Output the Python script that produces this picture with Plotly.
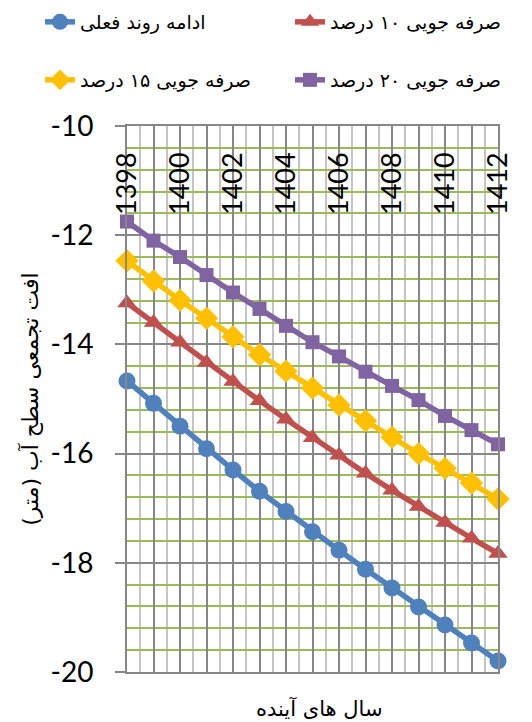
import plotly.graph_objects as go

# Forecast years (Solar Hijri calendar)
years = list(range(1398, 1413))
year_labels = [str(y) if y % 2 == 0 else "" for y in years]

# Depth ticks on the vertical axis
y_ticks = [-20, -18, -16, -14, -12, -10]
y_tick_labels = [str(v) for v in y_ticks]

# Cumulative groundwater-level drop (m) under each scenario
current_trend = [-14.67, -15.08, -15.50, -15.91, -16.30, -16.69, -17.06, -17.43,
                 -17.77, -18.12, -18.46, -18.81, -19.14, -19.47, -19.80]
saving_10 = [-13.24, -13.60, -13.96, -14.33, -14.68, -15.03, -15.37, -15.71,
             -16.03, -16.36, -16.67, -16.97, -17.26, -17.55, -17.83]
saving_15 = [-12.47, -12.84, -13.19, -13.52, -13.86, -14.19, -14.49, -14.80,
             -15.11, -15.40, -15.70, -16.00, -16.27, -16.54, -16.83]
saving_20 = [-11.75, -12.10, -12.40, -12.73, -13.05, -13.35, -13.66, -13.96,
             -14.22, -14.50, -14.76, -15.02, -15.31, -15.57, -15.83]

names = ["ادامه روند فعلی", "صرفه جویی ۱۰ درصد", "صرفه جویی ۱۵ درصد", "صرفه جویی ۲۰ درصد"]

W, H = 532, 722
ARABIC_FONT = "DejaVu Sans"
NUM_FONT = "Lato"

# one legend box per series: (legend id, left px, centre-y px)
legend_slots = [("legend", 40, 22), ("legend2", 290, 22),
                ("legend3", 40, 80), ("legend4", 290, 80)]

series = [
    (current_trend, names[0], "#4F81BD", "circle", 17),
    (saving_10, names[1], "#C0504D", "triangle-up", 17),
    (saving_15, names[2], "#FFC000", "diamond", 18),
    (saving_20, names[3], "#8064A2", "square", 14),
]

fig = go.Figure()
for (vals, name, color, symbol, size), (leg, _, _) in zip(series, legend_slots):
    fig.add_trace(go.Scatter(
        x=years, y=vals, name=name, mode="lines+markers",
        line=dict(color=color, width=5.5),
        marker=dict(symbol=symbol, size=size, color=color),
        cliponaxis=False, legend=leg,
    ))

# Invisible companion trace so the year-label axis (x2) is drawn
fig.add_trace(go.Scatter(
    x=years, y=current_trend, xaxis="x2", mode="lines",
    line=dict(width=0), opacity=0, showlegend=False, hoverinfo="skip",
))

major_grid = "#878787"
legends = {}
for leg, left, cy in legend_slots:
    legends[leg] = dict(
        orientation="h", xref="container", yref="container",
        x=left / W, y=1 - cy / H, xanchor="left", yanchor="middle",
        font=dict(family=ARABIC_FONT, size=19, color="#000000"),
        bgcolor="rgba(0,0,0,0)", itemclick=False,
    )

fig.update_layout(
    width=W, height=H,
    margin=dict(l=127, r=34, t=126, b=50, autoexpand=False),
    paper_bgcolor="white", plot_bgcolor="white",
    showlegend=True,
    **legends,
    xaxis=dict(
        range=[1398, 1412], side="top",
        tickmode="array", tickvals=years, showticklabels=False,
        ticks="", zeroline=False,
        showline=True, mirror=True, linecolor=major_grid, linewidth=2,
        showgrid=True, gridcolor=major_grid, gridwidth=2,
        minor=dict(tickmode="linear", tick0=1398, dtick=0.5, showgrid=True,
                   gridcolor="#C4C4C4", gridwidth=1.5),
    ),
    # Year labels hang just below the top edge, reading bottom-to-top
    xaxis2=dict(
        matches="x", overlaying="x", anchor="free", position=1, side="bottom",
        tickmode="array", tickvals=years, ticktext=year_labels,
        tickangle=-90, ticks="", ticklabelstandoff=20,
        tickfont=dict(family=NUM_FONT, size=27, color="#000000"),
        showgrid=False, showline=False, zeroline=False,
    ),
    yaxis=dict(
        range=[-20, -10], tickmode="array", tickvals=y_ticks, ticktext=y_tick_labels,
        ticks="outside", ticklen=10, tickwidth=2, tickcolor=major_grid,
        tickfont=dict(family=NUM_FONT, size=28, color="#000000"),
        ticklabelstandoff=16,
        zeroline=False,
        showline=True, mirror=True, linecolor=major_grid, linewidth=2,
        showgrid=True, gridcolor=major_grid, gridwidth=2,
        minor=dict(tickmode="linear", tick0=-10, dtick=0.4, showgrid=True,
                   gridcolor="#9BBB59", gridwidth=2),
        title=dict(text="افت تجمعی سطح آب (متر)",
                   font=dict(family=ARABIC_FONT, size=22, color="#000000"),
                   standoff=6),
    ),
)

fig.add_annotation(
    text="سال های آینده", showarrow=False,
    xref="paper", yref="paper", x=0.52, y=(672 - 708) / 546,
    xanchor="center", yanchor="middle",
    font=dict(family=ARABIC_FONT, size=21, color="#000000"),
)

fig.write_html("out.html")
